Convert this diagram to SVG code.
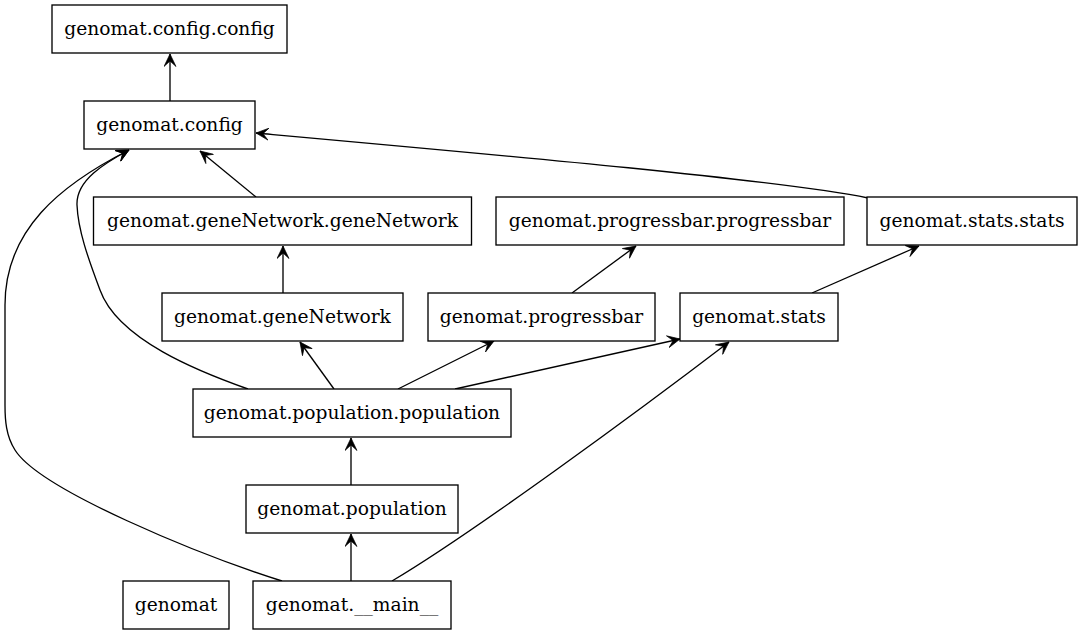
<svg xmlns="http://www.w3.org/2000/svg" width="1083" height="635" viewBox="0 0 1083 635">
<style>
.n rect{fill:#fff;stroke:#000;stroke-width:1.33}
.n text{font-family:"DejaVu Serif","Liberation Serif",serif;font-size:18.67px;fill:#000;text-anchor:middle}
.e path{fill:none;stroke:#000;stroke-width:1.33;marker-end:url(#ah)}
</style>
<defs>
<marker id="ah" markerUnits="userSpaceOnUse" markerWidth="14" markerHeight="13" refX="13" refY="6.5" orient="auto" viewBox="0 0 14 13">
<path d="M13,6.5 L0.5,0.5 L6,6.5 L0.5,12.5 Z" fill="#000" stroke="#000" stroke-width="0.7" stroke-linejoin="miter"/>
</marker>
</defs>
<rect width="1083" height="635" fill="#fff"/>
<g class="e" id="edges">
<path d="M170,101 L170,54"/>
<path d="M256,197 L200,151"/>
<path d="M868,198 C780,180 500,155 256,133"/>
<path d="M283,293 L283,246"/>
<path d="M572,293 L636,246"/>
<path d="M812,293 L919,246"/>
<path d="M334,389 L300,342"/>
<path d="M398,389 L494,341"/>
<path d="M455,389 L680,339"/>
<path d="M248,389 C200,372 118,340 100,290 C88,258 78,230 77,205 C76,180 105,163 129,150"/>
<path d="M351,485 L351,438"/>
<path d="M351,581 L351,534"/>
<path d="M392,581 C470,535 640,410 729,342"/>
<path d="M282,581 C200,555 40,490 15,450 C6,436 5,420 5,405 L5,305 C5,230 60,185 129,150"/>
</g>
<g class="n" id="genomat_config_config"><rect x="52" y="5" width="235" height="48"/><text x="169.5" y="34.5">genomat.config.config</text></g>
<g class="n" id="genomat_config"><rect x="84" y="101" width="171" height="48"/><text x="169.5" y="130.5">genomat.config</text></g>
<g class="n" id="genomat_geneNetwork_geneNetwork"><rect x="93.5" y="197" width="378" height="48"/><text x="282.5" y="226.5">genomat.geneNetwork.geneNetwork</text></g>
<g class="n" id="genomat_progressbar_progressbar"><rect x="496" y="197" width="348" height="48"/><text x="670" y="226.5">genomat.progressbar.progressbar</text></g>
<g class="n" id="genomat_stats_stats"><rect x="867" y="197" width="210" height="48"/><text x="972" y="226.5">genomat.stats.stats</text></g>
<g class="n" id="genomat_geneNetwork"><rect x="162" y="293" width="241" height="48"/><text x="282.5" y="322.5">genomat.geneNetwork</text></g>
<g class="n" id="genomat_progressbar"><rect x="428" y="293" width="227" height="48"/><text x="541.5" y="322.5">genomat.progressbar</text></g>
<g class="n" id="genomat_stats"><rect x="680" y="293" width="158" height="48"/><text x="759" y="322.5">genomat.stats</text></g>
<g class="n" id="genomat_population_population"><rect x="193" y="389" width="318" height="48"/><text x="352" y="418.5">genomat.population.population</text></g>
<g class="n" id="genomat_population"><rect x="246" y="485" width="212" height="48"/><text x="352" y="514.5">genomat.population</text></g>
<g class="n" id="genomat"><rect x="123" y="581" width="106" height="48"/><text x="176" y="610.5">genomat</text></g>
<g class="n" id="genomat___main__"><rect x="253" y="581" width="198" height="48"/><text x="352" y="610.5">genomat.__main__</text></g>
</svg>
